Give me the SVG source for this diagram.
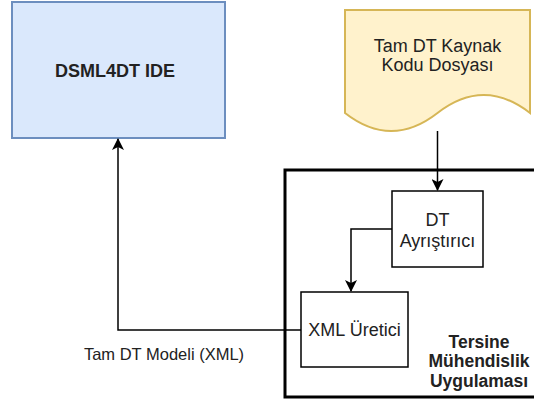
<svg xmlns="http://www.w3.org/2000/svg" width="534" height="401" viewBox="0 0 534 401">
<style>
text{font-family:"Liberation Sans",Arial,sans-serif;fill:#222;}
.n{font-size:18px;text-anchor:middle;}
.b{font-size:17.5px;font-weight:bold;text-anchor:middle;}
.lbl{font-size:16.5px;text-anchor:middle;}
.box{fill:#fff;stroke:#000;stroke-width:1.5;}
.edge{fill:none;stroke:#000;stroke-width:1.5;}
</style>
<defs>
<marker id="arr" markerUnits="userSpaceOnUse" markerWidth="12" markerHeight="12" viewBox="0 0 12 12" refX="11" refY="6" orient="auto">
<path d="M0,0 L12,6 L0,12 L3,6 Z" fill="#000"/>
</marker>
</defs>
<g id="container">
<rect x="285" y="170" width="260" height="227" fill="#fff" stroke="#000" stroke-width="3"/>
<text class="b" x="479" y="347.5">Tersine</text>
<text class="b" x="479" y="367">Mühendislik</text>
<text class="b" x="479" y="386.5">Uygulaması</text>
</g>
<g id="ide">
<rect x="12" y="2" width="213" height="136" fill="#dae8fc" stroke="#6c8ebf" stroke-width="2"/>
<text class="b" x="115" y="77" style="font-size:18px">DSML4DT IDE</text>
</g>
<g id="source">
<path d="M345,10 L530,10 L530,113 Q483.75,77 437.5,113 Q391.25,149 345,113 Z" fill="#fff2cc" stroke="#d6b656" stroke-width="2"/>
<text class="n" x="437.5" y="51.5">Tam DT Kaynak</text>
<text class="n" x="437.5" y="70.5">Kodu Dosyası</text>
</g>
<g id="parser">
<rect class="box" x="392" y="191" width="91" height="76"/>
<text class="n" x="437.5" y="225.5">DT</text>
<text class="n" x="437.5" y="247">Ayrıştırıcı</text>
</g>
<g id="xmlgen">
<rect class="box" x="301" y="292" width="107" height="75"/>
<text class="n" x="354.5" y="336">XML Üretici</text>
</g>
<g id="connectors">
<path class="edge" d="M437.5,131 V190" marker-end="url(#arr)"/>
<path class="edge" d="M392,229 H351 V291" marker-end="url(#arr)"/>
<path class="edge" d="M301,330 H118 V139" marker-end="url(#arr)"/>
<text class="lbl" x="164" y="360">Tam DT Modeli (XML)</text>
</g>
</svg>
